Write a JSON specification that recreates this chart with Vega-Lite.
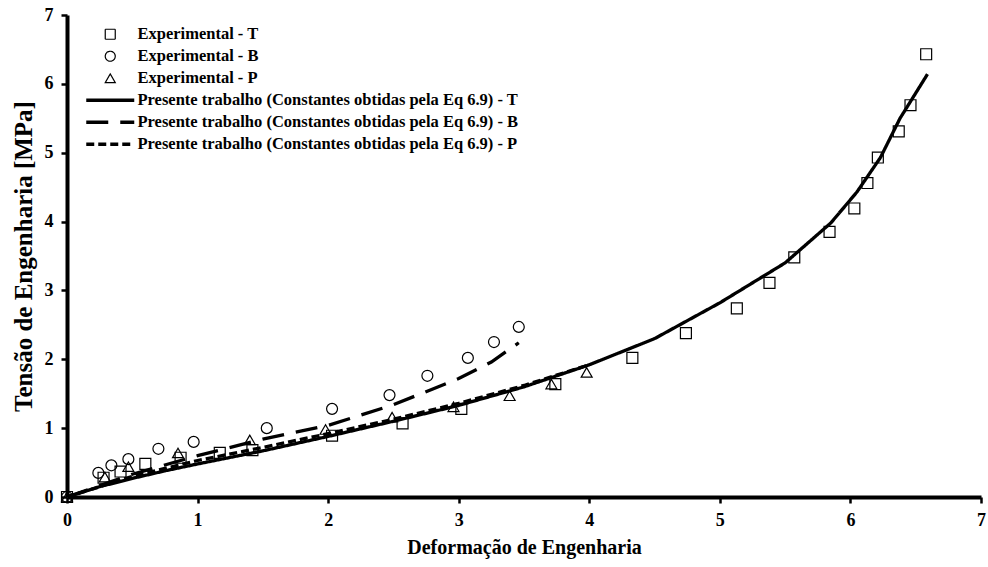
{
  "$schema": "https://vega.github.io/schema/vega-lite/v6.json",
  "width": 914,
  "height": 482,
  "autosize": "none",
  "padding": {"left": 67, "top": 15, "right": 7, "bottom": 70},
  "background": "white",
  "config": {
    "view": {"stroke": null},
    "font": "Liberation Serif",
    "axis": {
      "labelFont": "Liberation Serif",
      "titleFont": "Liberation Serif",
      "labelFontWeight": "bold",
      "titleFontWeight": "bold",
      "labelColor": "black",
      "titleColor": "black",
      "domainColor": "black",
      "tickColor": "black",
      "domainWidth": 4,
      "tickWidth": 2.5,
      "tickSize": 6,
      "grid": false,
      "labelFontSize": 18
    },
    "legend": {
      "labelFont": "Liberation Serif",
      "labelFontWeight": "bold",
      "labelFontSize": 16.5,
      "labelColor": "black",
      "title": null,
      "orient": "none",
      "legendX": 35,
      "legendY": 11,
      "symbolSize": 100,
      "symbolStrokeColor": "black",
      "symbolFillColor": "transparent",
      "rowPadding": 5,
      "labelOffset": 19,
      "labelLimit": 600
    }
  },
  "datasets": {
    "pts": [
      {"x": 0, "y": 0, "series": "Experimental - T"},
      {"x": 0.28, "y": 0.28, "series": "Experimental - T"},
      {"x": 0.41, "y": 0.37, "series": "Experimental - T"},
      {"x": 0.6, "y": 0.48, "series": "Experimental - T"},
      {"x": 0.87, "y": 0.57, "series": "Experimental - T"},
      {"x": 1.17, "y": 0.64, "series": "Experimental - T"},
      {"x": 1.42, "y": 0.68, "series": "Experimental - T"},
      {"x": 2.03, "y": 0.89, "series": "Experimental - T"},
      {"x": 2.57, "y": 1.07, "series": "Experimental - T"},
      {"x": 3.02, "y": 1.28, "series": "Experimental - T"},
      {"x": 3.74, "y": 1.64, "series": "Experimental - T"},
      {"x": 4.33, "y": 2.02, "series": "Experimental - T"},
      {"x": 4.74, "y": 2.38, "series": "Experimental - T"},
      {"x": 5.13, "y": 2.74, "series": "Experimental - T"},
      {"x": 5.38, "y": 3.11, "series": "Experimental - T"},
      {"x": 5.57, "y": 3.48, "series": "Experimental - T"},
      {"x": 5.84, "y": 3.85, "series": "Experimental - T"},
      {"x": 6.03, "y": 4.19, "series": "Experimental - T"},
      {"x": 6.13, "y": 4.56, "series": "Experimental - T"},
      {"x": 6.21, "y": 4.93, "series": "Experimental - T"},
      {"x": 6.37, "y": 5.31, "series": "Experimental - T"},
      {"x": 6.46, "y": 5.69, "series": "Experimental - T"},
      {"x": 6.58, "y": 6.43, "series": "Experimental - T"},
      {"x": 0, "y": 0, "series": "Experimental - B"},
      {"x": 0.24, "y": 0.35, "series": "Experimental - B"},
      {"x": 0.34, "y": 0.46, "series": "Experimental - B"},
      {"x": 0.47, "y": 0.55, "series": "Experimental - B"},
      {"x": 0.7, "y": 0.7, "series": "Experimental - B"},
      {"x": 0.97, "y": 0.8, "series": "Experimental - B"},
      {"x": 1.53, "y": 1.0, "series": "Experimental - B"},
      {"x": 2.03, "y": 1.28, "series": "Experimental - B"},
      {"x": 2.47, "y": 1.48, "series": "Experimental - B"},
      {"x": 2.76, "y": 1.76, "series": "Experimental - B"},
      {"x": 3.07, "y": 2.02, "series": "Experimental - B"},
      {"x": 3.27, "y": 2.25, "series": "Experimental - B"},
      {"x": 3.46, "y": 2.47, "series": "Experimental - B"},
      {"x": 0, "y": 0, "series": "Experimental - P"},
      {"x": 0.29, "y": 0.29, "series": "Experimental - P"},
      {"x": 0.47, "y": 0.44, "series": "Experimental - P"},
      {"x": 0.85, "y": 0.64, "series": "Experimental - P"},
      {"x": 1.4, "y": 0.83, "series": "Experimental - P"},
      {"x": 1.98, "y": 0.98, "series": "Experimental - P"},
      {"x": 2.49, "y": 1.16, "series": "Experimental - P"},
      {"x": 2.96, "y": 1.31, "series": "Experimental - P"},
      {"x": 3.39, "y": 1.47, "series": "Experimental - P"},
      {"x": 3.71, "y": 1.64, "series": "Experimental - P"},
      {"x": 3.98, "y": 1.81, "series": "Experimental - P"}
    ],
    "fits": [
      {"x": 0, "y": 0, "series": "Presente trabalho (Constantes obtidas pela Eq 6.9) - T"},
      {"x": 0.25, "y": 0.15, "series": "Presente trabalho (Constantes obtidas pela Eq 6.9) - T"},
      {"x": 0.5, "y": 0.27, "series": "Presente trabalho (Constantes obtidas pela Eq 6.9) - T"},
      {"x": 0.75, "y": 0.38, "series": "Presente trabalho (Constantes obtidas pela Eq 6.9) - T"},
      {"x": 1.0, "y": 0.48, "series": "Presente trabalho (Constantes obtidas pela Eq 6.9) - T"},
      {"x": 1.5, "y": 0.67, "series": "Presente trabalho (Constantes obtidas pela Eq 6.9) - T"},
      {"x": 2.0, "y": 0.88, "series": "Presente trabalho (Constantes obtidas pela Eq 6.9) - T"},
      {"x": 2.5, "y": 1.1, "series": "Presente trabalho (Constantes obtidas pela Eq 6.9) - T"},
      {"x": 3.0, "y": 1.33, "series": "Presente trabalho (Constantes obtidas pela Eq 6.9) - T"},
      {"x": 3.5, "y": 1.6, "series": "Presente trabalho (Constantes obtidas pela Eq 6.9) - T"},
      {"x": 4.0, "y": 1.92, "series": "Presente trabalho (Constantes obtidas pela Eq 6.9) - T"},
      {"x": 4.5, "y": 2.3, "series": "Presente trabalho (Constantes obtidas pela Eq 6.9) - T"},
      {"x": 5.0, "y": 2.82, "series": "Presente trabalho (Constantes obtidas pela Eq 6.9) - T"},
      {"x": 5.5, "y": 3.4, "series": "Presente trabalho (Constantes obtidas pela Eq 6.9) - T"},
      {"x": 5.85, "y": 3.98, "series": "Presente trabalho (Constantes obtidas pela Eq 6.9) - T"},
      {"x": 6.05, "y": 4.43, "series": "Presente trabalho (Constantes obtidas pela Eq 6.9) - T"},
      {"x": 6.23, "y": 4.93, "series": "Presente trabalho (Constantes obtidas pela Eq 6.9) - T"},
      {"x": 6.38, "y": 5.5, "series": "Presente trabalho (Constantes obtidas pela Eq 6.9) - T"},
      {"x": 6.59, "y": 6.14, "series": "Presente trabalho (Constantes obtidas pela Eq 6.9) - T"},
      {"x": 0, "y": 0, "series": "Presente trabalho (Constantes obtidas pela Eq 6.9) - B"},
      {"x": 0.5, "y": 0.33, "series": "Presente trabalho (Constantes obtidas pela Eq 6.9) - B"},
      {"x": 1.0, "y": 0.6, "series": "Presente trabalho (Constantes obtidas pela Eq 6.9) - B"},
      {"x": 1.5, "y": 0.84, "series": "Presente trabalho (Constantes obtidas pela Eq 6.9) - B"},
      {"x": 2.0, "y": 1.04, "series": "Presente trabalho (Constantes obtidas pela Eq 6.9) - B"},
      {"x": 2.5, "y": 1.34, "series": "Presente trabalho (Constantes obtidas pela Eq 6.9) - B"},
      {"x": 3.0, "y": 1.72, "series": "Presente trabalho (Constantes obtidas pela Eq 6.9) - B"},
      {"x": 3.25, "y": 1.96, "series": "Presente trabalho (Constantes obtidas pela Eq 6.9) - B"},
      {"x": 3.46, "y": 2.24, "series": "Presente trabalho (Constantes obtidas pela Eq 6.9) - B"},
      {"x": 0, "y": 0, "series": "Presente trabalho (Constantes obtidas pela Eq 6.9) - P"},
      {"x": 0.5, "y": 0.3, "series": "Presente trabalho (Constantes obtidas pela Eq 6.9) - P"},
      {"x": 1.0, "y": 0.53, "series": "Presente trabalho (Constantes obtidas pela Eq 6.9) - P"},
      {"x": 1.5, "y": 0.72, "series": "Presente trabalho (Constantes obtidas pela Eq 6.9) - P"},
      {"x": 2.0, "y": 0.92, "series": "Presente trabalho (Constantes obtidas pela Eq 6.9) - P"},
      {"x": 2.5, "y": 1.13, "series": "Presente trabalho (Constantes obtidas pela Eq 6.9) - P"},
      {"x": 3.0, "y": 1.36, "series": "Presente trabalho (Constantes obtidas pela Eq 6.9) - P"},
      {"x": 3.5, "y": 1.62, "series": "Presente trabalho (Constantes obtidas pela Eq 6.9) - P"},
      {"x": 4.0, "y": 1.92, "series": "Presente trabalho (Constantes obtidas pela Eq 6.9) - P"}
    ]
  },
  "encoding": {
    "x": {
      "field": "x", "type": "quantitative",
      "scale": {"domain": [0, 7], "nice": false, "zero": true},
      "axis": {"values": [0, 1, 2, 3, 4, 5, 6, 7], "title": "Deformação de Engenharia", "titleFontSize": 20, "labelFontWeight": "bold", "labelPadding": 8, "titlePadding": 8, "labelFlush": false}
    },
    "y": {
      "field": "y", "type": "quantitative",
      "scale": {"domain": [0, 7], "nice": false},
      "axis": {"values": [0, 1, 2, 3, 4, 5, 6, 7], "title": "Tensão de Engenharia [MPa]", "titleFontSize": 25, "labelFontWeight": "bold", "labelPadding": 8, "titlePadding": 8, "labelFlush": false}
    },
    "strokeWidth": {
      "field": "series", "type": "nominal",
      "scale": {
        "type": "ordinal",
        "domain": ["Experimental - T", "Experimental - B", "Experimental - P", "Presente trabalho (Constantes obtidas pela Eq 6.9) - T", "Presente trabalho (Constantes obtidas pela Eq 6.9) - B", "Presente trabalho (Constantes obtidas pela Eq 6.9) - P"],
        "range": [1.2, 1.2, 1.2, 3.3, 3.3, 3.3]
      }
    }
  },
  "layer": [
    {
      "data": {"name": "fits"},
      "mark": {"type": "line", "color": "black", "clip": true},
      "encoding": {
        "strokeDash": {
          "field": "series", "type": "nominal",
          "scale": {
            "domain": ["Experimental - T", "Experimental - B", "Experimental - P", "Presente trabalho (Constantes obtidas pela Eq 6.9) - T", "Presente trabalho (Constantes obtidas pela Eq 6.9) - B", "Presente trabalho (Constantes obtidas pela Eq 6.9) - P"],
            "range": [[1, 0], [1, 0], [1, 0], [1, 0], [22, 12], [8, 4]]
          }
        }
      }
    },
    {
      "data": {"name": "pts"},
      "mark": {"type": "point", "filled": false, "color": "black", "size": 120, "opacity": 1},
      "encoding": {
        "shape": {
          "field": "series", "type": "nominal",
          "scale": {
            "domain": ["Experimental - T", "Experimental - B", "Experimental - P", "Presente trabalho (Constantes obtidas pela Eq 6.9) - T", "Presente trabalho (Constantes obtidas pela Eq 6.9) - B", "Presente trabalho (Constantes obtidas pela Eq 6.9) - P"],
            "range": ["square", "circle", "triangle-up", "M-4.8,0H4.8", "M-4.8,0H4.8", "M-4.8,0H4.8"]
          }
        }
      }
    }
  ]
}
